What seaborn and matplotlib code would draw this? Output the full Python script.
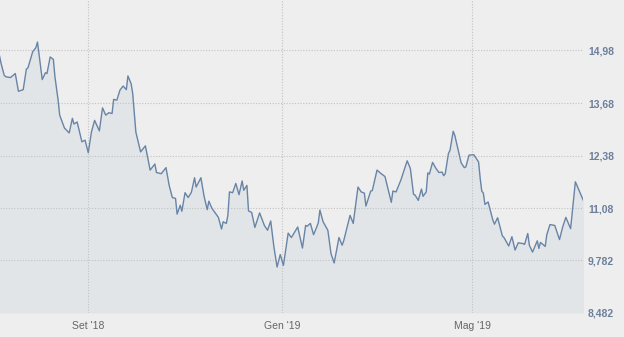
import matplotlib
matplotlib.use("Agg")
import matplotlib.pyplot as plt
import seaborn as sns
import pandas as pd

# ---- data: days since 2018-07-06 and price values ----
start_date = "2018-07-06"
days = [1, 2, 4, 5, 8, 11, 13, 16, 18, 19, 22, 24, 25, 28, 30, 31, 33, 35, 36, 38,
        39, 42, 45, 47, 48, 50, 53, 55, 57, 59, 61, 64, 66, 68, 70, 72, 73, 75, 77, 79,
        81, 82, 84, 85, 87, 90, 93, 96, 99, 100, 103, 106, 108, 110, 112, 113, 115, 116, 118, 120,
        122, 124, 125, 128, 130, 132, 133, 135, 139, 141, 142, 144, 145, 146, 148, 150, 152, 154, 155, 157,
        158, 160, 162, 165, 168, 170, 172, 174, 176, 178, 180, 183, 185, 189, 192, 194, 195, 197, 199, 201,
        202, 203, 205, 208, 210, 212, 215, 217, 218, 222, 224, 227, 229, 231, 232, 235, 236, 239, 241, 244,
        248, 249, 251, 254, 258, 260, 262, 263, 265, 267, 268, 270, 271, 272, 274, 276, 278, 280, 281, 282,
        284, 285, 287, 288, 292, 294, 295, 297, 300, 303, 304, 305, 306, 307, 309, 312, 313, 315, 318, 319,
        322, 324, 326, 328, 331, 332, 334, 335, 337, 340, 341, 342, 345, 346, 348, 351, 354, 356, 358, 361,
        364, 369]
prices = [14.86, 14.67, 14.37, 14.33, 14.31, 14.41, 13.97, 14.01, 14.52, 14.55, 14.95, 15.05, 15.19, 14.26, 14.43, 14.41, 14.82, 14.76, 14.33, 13.75,
          13.38, 13.06, 12.94, 13.30, 13.16, 13.21, 12.72, 12.76, 12.45, 12.96, 13.25, 12.99, 13.56, 13.38, 13.44, 13.42, 13.77, 13.75, 14.00, 14.10,
          14.01, 14.35, 14.16, 13.92, 12.96, 12.47, 12.62, 12.02, 12.17, 11.96, 11.93, 12.08, 11.64, 11.34, 11.32, 10.93, 11.15, 11.00, 11.46, 11.34,
          11.47, 11.83, 11.60, 11.83, 11.37, 11.04, 11.25, 11.07, 10.85, 10.56, 10.74, 10.70, 10.90, 11.48, 11.46, 11.69, 11.41, 11.75, 11.52, 11.64,
          11.01, 10.97, 10.60, 10.96, 10.65, 10.53, 10.76, 10.12, 9.62, 9.93, 9.66, 10.46, 10.35, 10.61, 10.09, 10.65, 10.63, 10.70, 10.42, 10.61,
          10.72, 11.03, 10.74, 10.53, 9.95, 9.72, 10.35, 10.16, 10.27, 10.90, 10.70, 11.60, 11.48, 11.45, 11.13, 11.50, 11.51, 12.02, 11.95, 11.86,
          11.22, 11.50, 11.48, 11.77, 12.25, 12.06, 11.42, 11.40, 11.27, 11.55, 11.37, 11.48, 11.95, 11.92, 12.21, 12.07, 11.96, 11.97, 11.88, 11.93,
          12.43, 12.51, 12.98, 12.88, 12.20, 12.08, 12.10, 12.39, 12.40, 12.22, 11.82, 11.50, 11.45, 11.17, 11.23, 10.78, 10.68, 10.84, 10.39, 10.35,
          10.14, 10.37, 10.04, 10.22, 10.20, 10.18, 10.45, 10.16, 9.99, 10.27, 10.08, 10.23, 10.13, 10.42, 10.67, 10.65, 10.30, 10.61, 10.85, 10.57,
          11.73, 11.27]
view_days = (1.38, 368.81)

x_tick_dates = ["2018-09-01", "2019-01-01", "2019-05-01"]
x_tick_labels = ["Set '18", "Gen '19", "Mag '19"]
y_ticks = [8.482, 9.782, 11.08, 12.38, 13.68, 14.98]
y_tick_labels = ["8,482", "9,782", "11,08", "12,38", "13,68", "14,98"]

# ---- build frame ----
origin = pd.Timestamp(start_date)
dates = origin + pd.to_timedelta(days, unit="D")
df = pd.DataFrame({"date": dates, "price": prices})

sns.set_style("white")
plt.rcParams["font.family"] = ["Liberation Sans", "DejaVu Sans"]

bg = "#eeeeee"
fig = plt.figure(figsize=(6.24, 3.37), dpi=100, facecolor=bg)
ax = fig.add_axes([0, 24 / 337, 583 / 624, 313 / 337])
ax.set_facecolor(bg)

ax.fill_between(df["date"], df["price"], y_ticks[0], color="#e1e5e8", lw=0, zorder=1)
sns.lineplot(data=df, x="date", y="price", ax=ax, color="#6884a6", lw=1.0, zorder=3)

ax.set_xlim(origin + pd.Timedelta(days=view_days[0]), origin + pd.Timedelta(days=view_days[1]))
ax.set_ylim(y_ticks[0], 16.23)

ax.set_xticks(pd.to_datetime(x_tick_dates))
ax.set_xticklabels(x_tick_labels, fontsize=7.5, color="#666666")
ax.yaxis.tick_right()
ax.set_yticks(y_ticks)
ax.set_yticklabels(y_tick_labels, fontsize=7.5, color="#6c7f9b", fontweight="bold", ha="left")
ax.tick_params(axis="y", length=0, pad=3.6)
ax.tick_params(axis="x", length=0, pad=6)

ax.set_axisbelow(False)
ax.grid(True, linestyle=(0, (1, 1.5)), color="#c2c2c2", lw=0.8, zorder=2)
for s in ax.spines.values():
    s.set_visible(False)
ax.set_xlabel("")
ax.set_ylabel("")

fig.savefig("out.png", dpi=100, facecolor=bg)
